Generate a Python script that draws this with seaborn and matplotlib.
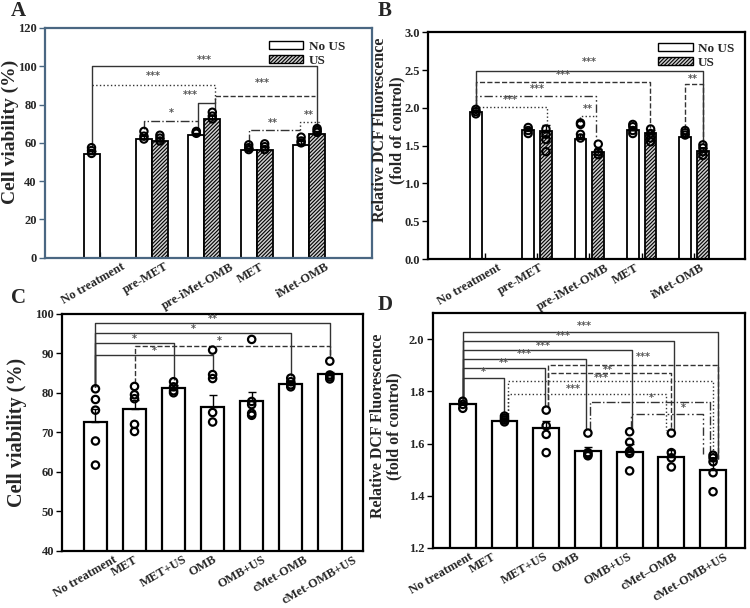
import numpy as np
import pandas as pd
import matplotlib
matplotlib.use("Agg")
import matplotlib.pyplot as plt
import seaborn as sns
from matplotlib.patches import Patch
from matplotlib.transforms import ScaledTranslation

# ---------------- data ----------------
groups_ab = ["No treatment", "pre-MET", "pre-iMet-OMB", "MET", "iMet-OMB"]
conds = ["No US", "US"]

# panel A - cell viability (%)
a_nous = [54.0, 61.8, 64.0, 56.2, 59.0]
a_us = [np.nan, 60.8, 72.3, 56.5, 64.5]
a_nous_err = [1.5, 2.0, 1.0, 1.2, 1.8]
a_us_err = [np.nan, 1.5, 2.0, 1.5, 1.5]
a_pts_nous = [[57.5, 56.0, 54.5], [66.0, 63.5, 62.0], [66.0, 65.5, 65.0],
              [59.0, 57.5, 56.5], [63.0, 61.0, 60.0]]
a_pts_us = [[], [64.0, 62.5, 61.0], [76.0, 74.0, 72.5],
            [59.5, 58.0, 56.5], [67.5, 66.5, 65.5]]

# panel B - relative DCF fluorescence
b_nous = [1.94, 1.70, 1.59, 1.70, 1.62]
b_us = [np.nan, 1.69, 1.41, 1.67, 1.43]
b_nous_err = [0.03, 0.03, 0.06, 0.03, 0.03]
b_us_err = [np.nan, 0.08, 0.04, 0.04, 0.04]
b_pts_nous = [[1.98, 1.95, 1.92], [1.74, 1.70, 1.66], [1.80, 1.78, 1.65, 1.60],
              [1.78, 1.75, 1.70, 1.66], [1.70, 1.67, 1.64]]
b_pts_us = [[], [1.72, 1.65, 1.58, 1.42], [1.52, 1.42, 1.38],
            [1.72, 1.66, 1.60, 1.55], [1.51, 1.47, 1.42, 1.37]]

# panel C - cell viability (%)
groups_c = ["No treatment", "MET", "MET+US", "OMB", "OMB+US", "cMet-OMB", "cMet-OMB+US"]
c_mean = [72.5, 76.0, 81.2, 76.5, 77.8, 82.1, 84.7]
c_err = [3.5, 2.2, 0.8, 3.0, 2.3, 0.6, 0.6]
c_pts = [[81.0, 78.3, 75.6, 67.8, 61.7], [81.6, 79.5, 78.5, 72.0, 70.2],
         [82.8, 81.5, 80.5, 80.0], [90.8, 84.6, 83.6, 75.0, 72.6],
         [93.5, 77.8, 77.0, 74.8, 74.3], [83.7, 82.8, 82.0, 81.5],
         [88.0, 84.5, 84.0, 83.5]]

# panel D - relative DCF fluorescence
groups_d = ["No treatment", "MET", "MET+US", "OMB", "OMB+US", "cMet\u2013OMB", "cMet-OMB+US"]
d_mean = [1.75, 1.685, 1.658, 1.57, 1.568, 1.55, 1.497]
d_err = [0.008, 0.006, 0.03, 0.015, 0.03, 0.025, 0.04]
d_pts = [[1.762, 1.75, 1.735], [1.705, 1.697, 1.69, 1.683],
         [1.728, 1.668, 1.635, 1.565], [1.64, 1.565, 1.558, 1.553],
         [1.645, 1.605, 1.57, 1.562, 1.495], [1.64, 1.565, 1.545, 1.51],
         [1.555, 1.545, 1.53, 1.488, 1.415]]

# significance brackets: (x1, x2, y, foot1, foot2, label, label_x, label_y, style)
DD = (0, (6, 2, 1.2, 2, 1.2, 2))
sig_a = [(-0.15, 4.15, 100, 58.5, 68.5, "***", 2.0, 103.5, "-"),
         (-0.15, 2.2, 90.4, 90.4, 81, "***", 1.03, 94.8, ":"),
         (1.88, 2.2, 81, 66.5, 77, "***", 1.73, 84.8, "-"),
         (2.2, 4.12, 84.5, 81, 84.5, "***", 3.1, 91.3, "--"),
         (0.85, 1.88, 71.2, 67, 71.2, "*", 1.38, 75.8, "-."),
         (2.85, 3.82, 66.5, 60, 66.5, "**", 3.3, 70.3, "-."),
         (3.82, 4.18, 70.7, 66.5, 68.5, "**", 4.0, 74.5, ":")]
sig_b = [(-0.17, 4.17, 2.49, 1.99, 1.52, "***", 2.0, 2.60, "-"),
         (-0.17, 3.15, 2.34, 2.0, 1.73, "***", 1.5, 2.43, "--"),
         (-0.17, 2.13, 2.16, 2.0, 1.53, "***", 1.0, 2.25, DD),
         (-0.17, 1.19, 2.01, 2.0, 1.78, "***", 0.48, 2.10, ":"),
         (1.83, 2.13, 1.89, 1.81, 1.89, "**", 1.97, 1.98, ":"),
         (3.83, 4.17, 2.31, 1.72, 1.52, "**", 3.98, 2.38, "--")]
sig_c = [(0, 6, 97.6, 81.5, 89.2, "**", 3.0, 98.7, "-"),
         (0, 5, 95.2, 81.5, 84.3, "*", 2.5, 96.2, "-"),
         (0, 2, 92.5, 81.5, 83.3, "*", 1.0, 93.5, "-"),
         (0, 3, 89.6, 81.5, 85.5, "*", 1.5, 90.6, "-"),
         (1, 6, 91.9, 82.5, 89.2, "*", 3.17, 93.0, "--")]
sig_d = [(0, 6.12, 2.029, 1.765, 1.54, "***", 2.92, 2.051, "-"),
         (0, 5.06, 1.994, 1.765, 1.65, "***", 2.4, 2.013, "-"),
         (0, 4.06, 1.958, 1.765, 1.65, "***", 1.92, 1.975, "-"),
         (0, 2.96, 1.924, 1.765, 1.65, "***", 1.48, 1.943, "-"),
         (0, 1.98, 1.890, 1.765, 1.74, "**", 0.98, 1.907, "-"),
         (0, 0.98, 1.851, 1.765, 1.71, "*", 0.5, 1.873, "-"),
         (2.04, 6.12, 1.902, 1.74, 1.54, "***", 4.32, 1.93, "--"),
         (2.04, 5.0, 1.869, 1.74, 1.65, "**", 3.48, 1.883, "--"),
         (1.08, 6.0, 1.838, 1.715, 1.56, "***", 3.32, 1.85, ":"),
         (1.08, 4.88, 1.790, 1.715, 1.65, "***", 2.64, 1.81, ":"),
         (3.06, 5.92, 1.758, 1.65, 1.56, "*", 4.52, 1.774, "-."),
         (4.04, 5.76, 1.712, 1.655, 1.56, "*", 5.28, 1.735, DD)]

# ---------------- style ----------------
sns.set_style("ticks")
plt.rcParams["font.family"] = ["Liberation Serif", "DejaVu Serif"]
plt.rcParams["font.weight"] = "bold"
plt.rcParams["axes.labelweight"] = "bold"
plt.rcParams["hatch.linewidth"] = 0.8
HATCH = "/" * 9
TICK_FS = 9

fig = plt.figure(figsize=(7.5, 6.08), dpi=100)
axA = fig.add_axes([0.060, 0.576, 0.436, 0.378])
axB = fig.add_axes([0.571, 0.574, 0.422, 0.373])
axC = fig.add_axes([0.083, 0.094, 0.401, 0.390])
axD = fig.add_axes([0.577, 0.099, 0.416, 0.386])


def two_cond_panel(ax, nous, us, nous_err, us_err, pts_nous, pts_us, width, gap, leg_anchor):
    df = pd.DataFrame({"group": groups_ab * 2,
                       "cond": ["No US"] * 5 + ["US"] * 5,
                       "value": list(nous) + list(us)}).dropna()
    sns.barplot(data=df, x="group", y="value", hue="cond", order=groups_ab,
                hue_order=conds, palette=["white", "#d0d0d0"], edgecolor="black",
                linewidth=1.3, width=width, gap=gap, errorbar=None,
                legend=False, ax=ax)
    for bar in ax.containers[1]:
        bar.set_hatch(HATCH)
    off = width / 4
    idx = np.arange(len(groups_ab))
    for k, (means, errs, pts) in enumerate([(nous, nous_err, pts_nous),
                                            (us, us_err, pts_us)]):
        xs = idx + (k - 0.5) * 2 * off
        means = np.array(means, float)
        errs = np.array(errs, float)
        ok = ~np.isnan(means)
        ax.errorbar(xs[ok], means[ok], yerr=[np.zeros(ok.sum()), errs[ok]],
                    fmt="none", ecolor="black", elinewidth=1.0, capsize=3,
                    capthick=1.0, zorder=3)
        px = [xs[i] for i, p in enumerate(pts) for _ in p]
        py = [v for p in pts for v in p]
        sns.scatterplot(x=px, y=py, ax=ax, marker="o", s=28, color="black",
                        zorder=4)
        ax.collections[-1].set_facecolor("none")
        ax.collections[-1].set_edgecolor("black")
        ax.collections[-1].set_linewidth(1.5)
    ax.legend(handles=[Patch(facecolor="white", edgecolor="black", label="No US"),
                       Patch(facecolor="#d0d0d0", edgecolor="black", hatch=HATCH, label="US")],
              loc="upper right", bbox_to_anchor=leg_anchor, frameon=False,
              fontsize=9.5, handlelength=2.6, handleheight=0.55,
              labelspacing=0.15, handletextpad=0.4, borderpad=0.3)


def one_cond_panel(ax, groups, means, errs, pts, width):
    df = pd.DataFrame({"group": groups, "value": means})
    sns.barplot(data=df, x="group", y="value", order=groups, color="white",
                edgecolor="black", linewidth=1.6, width=width, errorbar=None, ax=ax)
    idx = np.arange(len(groups))
    ax.errorbar(idx, means, yerr=[np.zeros(len(means)), errs], fmt="none",
                ecolor="black", elinewidth=1.0, capsize=3, capthick=1.0, zorder=3)
    px = [idx[i] for i, p in enumerate(pts) for _ in p]
    py = [v for p in pts for v in p]
    sns.scatterplot(x=px, y=py, ax=ax, marker="o", s=28, color="black", zorder=4)
    ax.collections[-1].set_facecolor("none")
    ax.collections[-1].set_edgecolor("black")
    ax.collections[-1].set_linewidth(1.6)


def draw_sig(ax, sigs):
    for x1, x2, y, f1, f2, lab, lx, ly, ls in sigs:
        ax.plot([x1, x1, x2, x2], [f1, y, y, f2], color="#333333", lw=1.0,
                ls=ls, zorder=2, solid_capstyle="butt")
        ax.text(lx, ly, lab, ha="center", va="center", fontsize=7,
                color="#555555", family="DejaVu Sans")


def finish(ax, labels, shift_px, spine_color="black"):
    ax.set_xticks(range(len(labels)))
    ax.set_xticklabels(labels, rotation=30, ha="center", fontsize=TICK_FS,
                       fontweight="bold")
    ax.tick_params(axis="x", direction="in", length=4, width=1.0, pad=2,
                   color=spine_color)
    ax.tick_params(axis="y", direction="out", length=4, width=1.0, pad=2,
                   labelsize=TICK_FS, color=spine_color)
    # nudge rotated labels left (after tick_params, which resets transforms)
    shift = ScaledTranslation(shift_px / 100, 0, fig.dpi_scale_trans)
    for t in ax.get_xticklabels():
        t.set_transform(t.get_transform() + shift)
    for t in ax.get_yticklabels():
        t.set_fontweight("bold")
    for s in ax.spines.values():
        s.set_visible(True)
        s.set_color(spine_color)
        s.set_linewidth(1.6)
    ax.set_xlabel("")


# ---------------- panel A ----------------
two_cond_panel(axA, a_nous, a_us, a_nous_err, a_us_err, a_pts_nous, a_pts_us,
               width=0.61, gap=0, leg_anchor=(0.95, 0.99))
draw_sig(axA, sig_a)
axA.set_xlim(-1.04, 5.2)
axA.set_ylim(0, 120)
axA.set_yticks(range(0, 121, 20))
finish(axA, groups_ab, -6, spine_color="#4a6782")
axA.set_ylabel("Cell viability (%)", fontsize=14)
axA.yaxis.set_label_coords(-0.079, 0.55)

# ---------------- panel B ----------------
two_cond_panel(axB, b_nous, b_us, b_nous_err, b_us_err, b_pts_nous, b_pts_us,
               width=0.68, gap=0.35, leg_anchor=(1.0, 1.0))
draw_sig(axB, sig_b)
axB.set_xlim(-1.08, 4.97)
axB.set_ylim(0, 3.0)
axB.set_yticks(np.arange(0, 3.01, 0.5))
axB.yaxis.set_major_formatter(matplotlib.ticker.FormatStrFormatter("%.1f"))
finish(axB, groups_ab, -16)
axB.set_ylabel("Relative DCF Fluorescence\n(fold of control)", fontsize=11.5,
               linespacing=1.1)
axB.yaxis.set_label_coords(-0.073, 0.57)

# ---------------- panel C ----------------
one_cond_panel(axC, groups_c, c_mean, c_err, c_pts, width=0.6)
draw_sig(axC, sig_c)
axC.set_xlim(-0.85, 6.85)
axC.set_ylim(40, 100)
axC.set_yticks(range(40, 101, 10))
finish(axC, groups_c, -10)
axC.set_ylabel("Cell viability (%)", fontsize=14.5)
axC.yaxis.set_label_coords(-0.116, 0.5)

# ---------------- panel D ----------------
one_cond_panel(axD, groups_d, d_mean, d_err, d_pts, width=0.62)
draw_sig(axD, sig_d)
axD.set_xlim(-0.72, 6.76)
axD.set_ylim(1.2, 2.1)
axD.set_yticks(np.arange(1.2, 2.01, 0.2))
axD.yaxis.set_major_formatter(matplotlib.ticker.FormatStrFormatter("%.1f"))
finish(axD, groups_d, -22)
axD.set_ylabel("Relative DCF Fluorescence\n(fold of control)", fontsize=11.5,
               linespacing=1.1)
axD.yaxis.set_label_coords(-0.096, 0.52)

# panel letters
for x, y, s in [(0.015, 0.998, "A"), (0.503, 0.998, "B"),
                (0.015, 0.527, "C"), (0.503, 0.515, "D")]:
    fig.text(x, y, s, fontsize=15, fontweight="bold", va="top", ha="left")

fig.savefig("out.png", dpi=100)
